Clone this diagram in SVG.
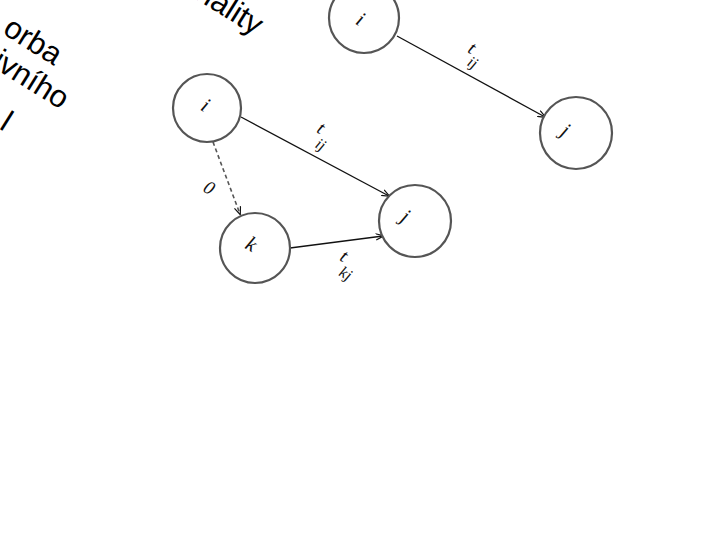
<svg xmlns="http://www.w3.org/2000/svg" width="720" height="540" viewBox="0 0 720 540">
<style>
.title{font-family:"Liberation Sans",Arial,sans-serif;font-size:31px;fill:#000}
.node circle{fill:#fff;stroke:#555;stroke-width:2.2}
.nl{font-family:"Liberation Serif","Times New Roman",serif;font-style:italic;font-size:21px;fill:#111}
.el{font-family:"Liberation Serif","Times New Roman",serif;font-style:italic;font-size:19px;fill:#111}
.sub{font-size:16px}
.edge{stroke:#111;stroke-width:1.3;fill:none}
.dash{stroke:#555;stroke-width:1.6;stroke-dasharray:4 3;fill:none}
</style>
<defs>
<marker id="ah" viewBox="0 0 10 10" refX="9" refY="5" markerWidth="8" markerHeight="8" orient="auto" markerUnits="userSpaceOnUse">
<path d="M0,1 L10,5 L0,9" fill="none" stroke="#111" stroke-width="1.5"/>
</marker>
</defs>
<rect width="720" height="540" fill="#fff"/>
<text class="title" text-anchor="end" transform="translate(255,36) rotate(32)">nality</text>
<text class="title" text-anchor="end" transform="translate(54,66) rotate(32)">orba</text>
<text class="title" text-anchor="end" transform="translate(61,110) rotate(32)">ivního</text>
<text class="title" text-anchor="end" transform="translate(4,132) rotate(32)">l</text>
<g id="connectors">
<line class="edge" x1="397" y1="36" x2="545" y2="117" marker-end="url(#ah)"/>
<line class="edge" x1="241" y1="117" x2="389" y2="196" marker-end="url(#ah)"/>
<line class="dash" x1="213" y1="142" x2="240" y2="214" marker-end="url(#ah)"/>
<line class="edge" x1="290" y1="248" x2="383" y2="236" marker-end="url(#ah)" stroke="#333"/>
<text class="el" transform="translate(469,53) rotate(30)" text-anchor="middle">t</text>
<text class="el sub" transform="translate(470,67) rotate(30)" text-anchor="middle">ij</text>
<text class="el" transform="translate(318,133) rotate(30)" text-anchor="middle">t</text>
<text class="el sub" transform="translate(318,149) rotate(30)" text-anchor="middle">ij</text>
<text class="el" transform="translate(341,261) rotate(30)" text-anchor="middle">t</text>
<text class="el sub" transform="translate(343,278) rotate(30)" text-anchor="middle">kj</text>
<text class="el" transform="translate(206,193) rotate(30)" text-anchor="middle" font-size="17">0</text>
</g>
<g id="node-i1" class="node"><circle cx="364" cy="18" r="35"/><text class="nl" transform="translate(357,25) rotate(30)" text-anchor="middle">i</text></g>
<g id="node-j1" class="node"><circle cx="576" cy="133" r="36"/><text class="nl" transform="translate(562,136) rotate(30)" text-anchor="middle">j</text></g>
<g id="node-i2" class="node"><circle cx="207" cy="108" r="34"/><text class="nl" transform="translate(202,111) rotate(30)" text-anchor="middle">i</text></g>
<g id="node-j2" class="node"><circle cx="415" cy="221" r="36"/><text class="nl" transform="translate(402,222) rotate(30)" text-anchor="middle">j</text></g>
<g id="node-k" class="node"><circle cx="255" cy="248" r="35"/><text class="nl" transform="translate(248,250) rotate(30)" text-anchor="middle">k</text></g>
</svg>
